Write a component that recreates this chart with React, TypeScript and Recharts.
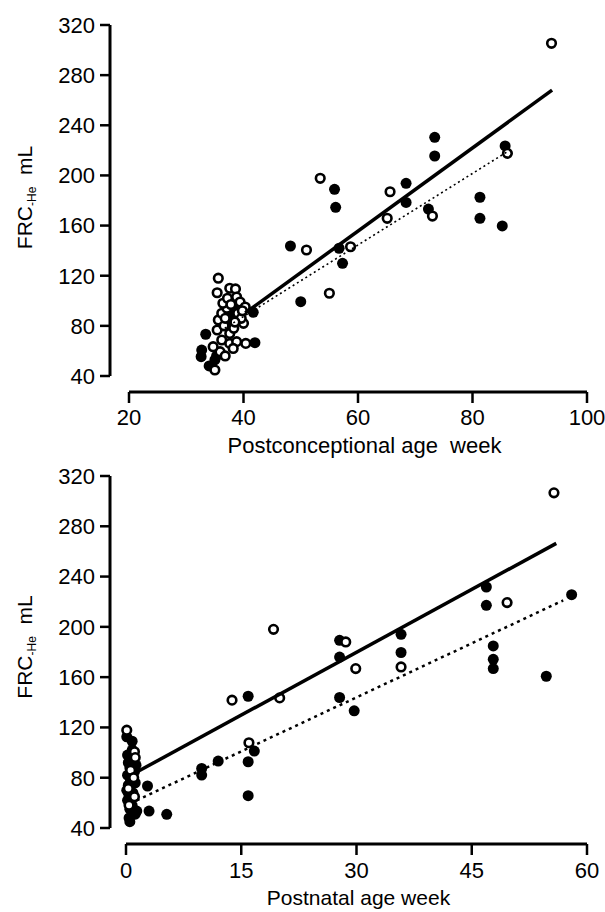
import { ScatterChart, Scatter, XAxis, YAxis } from 'recharts'

// Postconceptional age (week) vs FRC (mL)
const pcaFilled: [number, number][] = [
  [48.2, 143.7], [41.7, 90.8], [42, 66.6], [50, 99.3], [56.7, 141.9], [57.3, 129.9],
  [55.9, 188.9], [56.1, 174.6], [68.4, 193.7], [68.4, 178.5], [72.3, 173.2],
  [73.4, 230.4], [73.4, 215.5], [85.7, 223.5], [81.3, 182.6], [81.3, 165.8], [85.2, 159.7],
  [32.7, 60.7], [32.6, 55.4], [33.4, 73.3], [34, 48], [35, 52.8], [35.3, 56],
  [38.2, 87.3], [37.6, 84.7], [38.6, 96], [39.1, 92], [38.9, 101], [37.9, 90],
  [38.4, 93], [39.4, 88], [37.2, 88],
]
const pcaOpen: [number, number][] = [
  [93.8, 305.4], [53.4, 197.7], [65.6, 187], [65.1, 165.8], [73, 167.6], [86.1, 217.6],
  [51, 140.5], [58.7, 143.1], [55, 106],
  [35.6, 118], [35.4, 106.4], [37.6, 110], [38.6, 109.5], [38.8, 103], [35.6, 84.7],
  [35.4, 76.7], [37.6, 74], [36.2, 68.7], [37.6, 66], [35.9, 59.4], [34.7, 63.4],
  [38.8, 67.4], [38.2, 62], [40, 82], [39, 90], [39.4, 99], [36.2, 90], [37.1, 94],
  [35, 44.8], [36.6, 80], [38.3, 78], [39.6, 86], [40.3, 95], [36.4, 98], [37.2, 102],
  [40.4, 66], [36.8, 56], [37.8, 97], [38.5, 83], [36.8, 86], [39.8, 92],
]
const pcaFitAll: [number, number][] = [[40.3, 90.3], [93.9, 268]]
const pcaFitSub: [number, number][] = [[36, 76], [86, 218.7]]

// Postnatal age (week) vs FRC (mL)
const pnaFilled: [number, number][] = [
  [16.7, 101.2], [15.9, 92.7], [15.9, 65.7], [15.9, 144.8], [12, 93.2], [9.85, 87.4],
  [9.85, 82.1], [2.8, 73.4], [3, 53.5], [5.3, 50.9], [1.4, 53.5], [46.9, 231.7],
  [46.9, 217.1], [58, 225.6], [27.8, 189.3], [27.8, 176], [35.8, 194.1], [35.8, 179.6],
  [27.8, 143.8], [29.7, 133.2], [47.8, 184.8], [47.8, 174.2], [47.8, 166.8], [54.7, 160.7],
  [0.1, 112.5], [0.8, 109], [0.8, 102], [0.2, 98], [1, 95], [0.3, 92], [0.5, 88],
  [1.1, 85], [0.2, 82], [0.6, 78], [0.3, 74], [0.1, 70], [0.4, 66], [0.2, 62],
  [0.8, 58], [0.5, 55], [1.2, 51], [0.4, 48], [0.5, 45], [1.3, 90], [1.2, 76], [0.9, 68],
]
const pnaOpen: [number, number][] = [
  [55.7, 306.6], [49.6, 219.3], [28.6, 188], [35.8, 168.1], [29.9, 166.8], [19.2, 198],
  [13.8, 141.7], [20, 143.5], [16, 107.8],
  [0.1, 117.8], [1.1, 100.6], [1.2, 96], [0.3, 71.5], [1.1, 64.9], [0.6, 86], [1, 80], [0.4, 58],
]
const pnaFitAll: [number, number][] = [[1.4, 84.5], [56, 266.4]]
const pnaFitSub: [number, number][] = [[1.4, 62], [56.9, 221]]

const frcTicks = [40, 80, 120, 160, 200, 240, 280, 320]
const pcaTicks = [20, 40, 60, 80, 100]
const pnaTicks = [0, 15, 30, 45, 60]

const FONT = '"Liberation Sans", Arial, sans-serif'
const toPts = (d: [number, number][]) => d.map(([x, y]) => ({ x, y }))

const Filled = (p: any) => <circle cx={p.cx} cy={p.cy} r={5.5} fill="#000" />
const Open = (p: any) => (
  <circle cx={p.cx} cy={p.cy} r={4.3} fill="#fff" stroke="#000" strokeWidth={2.6} />
)
const NoDot = () => <g />

function YLabel({ viewBox, shift }: any) {
  const x = (viewBox?.x ?? 0) + 32
  const y = (viewBox?.y ?? 0) + (viewBox?.height ?? 0) / 2 + shift
  return (
    <text
      transform={`translate(${x},${y}) rotate(-90)`}
      textAnchor="middle"
      fontFamily={FONT}
      fontSize={21}
      fill="#000"
    >
      FRC<tspan fontSize={12} dy={4}>-He</tspan>
      <tspan dy={-4}>{'\u00a0 mL'}</tspan>
    </text>
  )
}

interface PanelProps {
  top: number
  height: number
  marginTop: number
  axisHeight: number
  xDomain: [number, number]
  xTicks: number[]
  xPad: number
  xLabel: string
  labelSize: number
  labelOffset: number
  labelDx: number
  tickMargin: number
  yShift: number
  filled: [number, number][]
  open: [number, number][]
  fitAll: [number, number][]
  fitSub: [number, number][]
  dotDash: string
  dotWidth: number
}

function Panel(p: PanelProps) {
  const plotH = p.height - p.marginTop - p.axisHeight
  const yPad = 16
  const tick = { fill: '#000', fontSize: 22, fontFamily: FONT }
  return (
    <div style={{ position: 'absolute', left: 0, top: p.top }}>
      <ScatterChart
        width={605}
        height={p.height}
        margin={{ top: p.marginTop, right: 18, bottom: 0, left: 0 }}
      >
        <XAxis
          type="number"
          dataKey="x"
          domain={p.xDomain}
          ticks={p.xTicks}
          padding={{ left: p.xPad, right: 0 }}
          height={p.axisHeight}
          tickSize={11}
          tickMargin={p.tickMargin}
          tick={tick}
          tickLine={{ stroke: '#000', strokeWidth: 2.5 }}
          axisLine={{ stroke: '#000', strokeWidth: 3, strokeDasharray: `0 ${p.xPad} 1000` }}
          label={{
            value: p.xLabel,
            position: 'insideBottom',
            offset: p.labelOffset,
            dx: p.labelDx,
            fill: '#000',
            fontSize: p.labelSize,
            fontFamily: FONT,
          }}
        />
        <YAxis
          type="number"
          dataKey="y"
          domain={[40, 320]}
          ticks={frcTicks}
          padding={{ top: 0, bottom: yPad }}
          width={110}
          tickSize={10}
          tickMargin={5}
          tick={tick}
          tickLine={{ stroke: '#000', strokeWidth: 2.5 }}
          axisLine={{ stroke: '#000', strokeWidth: 3, strokeDasharray: `${plotH - yPad} 100` }}
          label={<YLabel shift={p.yShift} />}
        />
        <Scatter data={toPts(p.filled)} shape={Filled} isAnimationActive={false} />
        <Scatter data={toPts(p.open)} shape={Open} isAnimationActive={false} />
        <Scatter
          data={toPts(p.fitAll)}
          shape={NoDot}
          line={{ stroke: '#000', strokeWidth: 3.5 }}
          isAnimationActive={false}
        />
        <Scatter
          data={toPts(p.fitSub)}
          shape={NoDot}
          line={{ stroke: '#000', strokeWidth: p.dotWidth, strokeDasharray: p.dotDash }}
          isAnimationActive={false}
        />
      </ScatterChart>
    </div>
  )
}

export default function App() {
  return (
    <div style={{ position: 'absolute', left: 0, top: 0, width: 605, height: 912, background: '#fff' }}>
      <Panel
        top={0}
        height={462}
        marginTop={25}
        axisHeight={70}
        xDomain={[20, 100]}
        xTicks={pcaTicks}
        xPad={19}
        xLabel={'Postconceptional age\u00a0 week'}
        labelSize={22}
        labelOffset={9}
        labelDx={16}
        tickMargin={6}
        yShift={-11}
        filled={pcaFilled}
        open={pcaOpen}
        fitAll={pcaFitAll}
        fitSub={pcaFitSub}
        dotDash="2 3"
        dotWidth={1.6}
      />
      <Panel
        top={456}
        height={456}
        marginTop={20}
        axisHeight={68}
        xDomain={[0, 60]}
        xTicks={pnaTicks}
        xPad={16}
        xLabel="Postnatal age week"
        labelSize={21}
        labelOffset={7}
        labelDx={10}
        tickMargin={7}
        yShift={-13}
        filled={pnaFilled}
        open={pnaOpen}
        fitAll={pnaFitAll}
        fitSub={pnaFitSub}
        dotDash="3 4"
        dotWidth={2.5}
      />
    </div>
  )
}
